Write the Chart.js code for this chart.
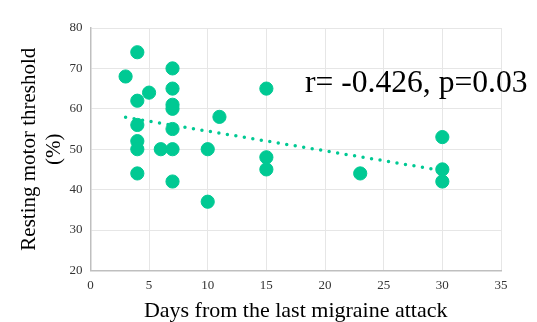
<!DOCTYPE html>
<html>
<head>
<meta charset="utf-8">
<script src="https://cdn.jsdelivr.net/npm/chart.js@4/dist/chart.umd.min.js"></script>
<style>
  html, body { margin: 0; padding: 0; background: #fff; }
  #wrap { width: 537px; height: 322px; position: relative; }
</style>
</head>
<body>
<div id="wrap"><canvas id="chart"></canvas></div>
<script>
// days since last attack vs resting motor threshold
const days = [3, 4, 4, 4, 4, 4, 4, 5, 6, 7, 7, 7, 7, 7, 7, 7, 10, 10, 11, 15, 15, 15, 23, 30, 30, 30];
const rmt  = [68, 74, 62, 56, 52, 50, 44, 64, 50, 70, 65, 61, 60, 55, 50, 42, 50, 37, 58, 65, 48, 45, 44, 53, 45, 42];

// trend line end points
const trendX = [3, 30];
const trendY = [57.9, 44.7];

const xTicks = [0, 5, 10, 15, 20, 25, 30, 35];
const yTicks = [20, 30, 40, 50, 60, 70, 80];

const GREEN = '#00C993';
const SERIF = "'Liberation Serif', 'Times New Roman', serif";

const statsLabel = {
    id: 'statsLabel',
    afterDraw(chart) {
        const ctx = chart.ctx;
        ctx.save();
        ctx.font = '31.6px ' + SERIF;
        ctx.fillStyle = '#000';
        ctx.textBaseline = 'alphabetic';
        ctx.fillText('r= -0.426, p=0.03', 305, 92);
        ctx.restore();
    }
};

new Chart(document.getElementById('chart').getContext('2d'), {
    type: 'scatter',
    data: {
        datasets: [
            {
                label: 'trend',
                type: 'line',
                data: trendX.map((x, i) => ({ x, y: trendY[i] })),
                borderColor: GREEN,
                borderWidth: 3.5,
                borderDash: [0, 8.6],
                borderCapStyle: 'round',
                pointRadius: 0,
                fill: false,
                order: 2
            },
            {
                label: 'RMT',
                data: days.map((x, i) => ({ x, y: rmt[i] })),
                backgroundColor: GREEN,
                borderColor: GREEN,
                pointRadius: 6.6,
                pointHoverRadius: 6.6,
                order: 1
            }
        ]
    },
    options: {
        responsive: true,
        maintainAspectRatio: false,
        animation: false,
        layout: { padding: { top: 28, right: 36, left: 17, bottom: 0 } },
        plugins: {
            legend: { display: false },
            tooltip: { enabled: false }
        },
        scales: {
            x: {
                type: 'linear',
                min: 0,
                max: 35,
                afterBuildTicks: (axis) => { axis.ticks = xTicks.map(v => ({ value: v })); },
                grid: { color: '#e6e6e6', drawTicks: false },
                border: { color: '#bfbfbf', width: 1.5 },
                ticks: { color: '#333', font: { family: SERIF, size: 13 }, padding: 7 },
                title: {
                    display: true,
                    text: 'Days from the last migraine attack',
                    color: '#000',
                    font: { family: SERIF, size: 22, lineHeight: 1.0 },
                    padding: { top: 0, bottom: 0 }
                }
            },
            y: {
                min: 20,
                max: 80,
                afterBuildTicks: (axis) => { axis.ticks = yTicks.map(v => ({ value: v })); },
                grid: { color: '#e6e6e6', drawTicks: false },
                border: { color: '#bfbfbf', width: 1.5 },
                ticks: { color: '#333', font: { family: SERIF, size: 13 }, padding: 8 },
                title: {
                    display: true,
                    text: ['Resting motor threshold', '(%)'],
                    color: '#000',
                    font: { family: SERIF, size: 21, lineHeight: 1.2 },
                    padding: { top: 0, bottom: -6 }
                }
            }
        }
    },
    plugins: [statsLabel]
});
</script>
</body>
</html>
